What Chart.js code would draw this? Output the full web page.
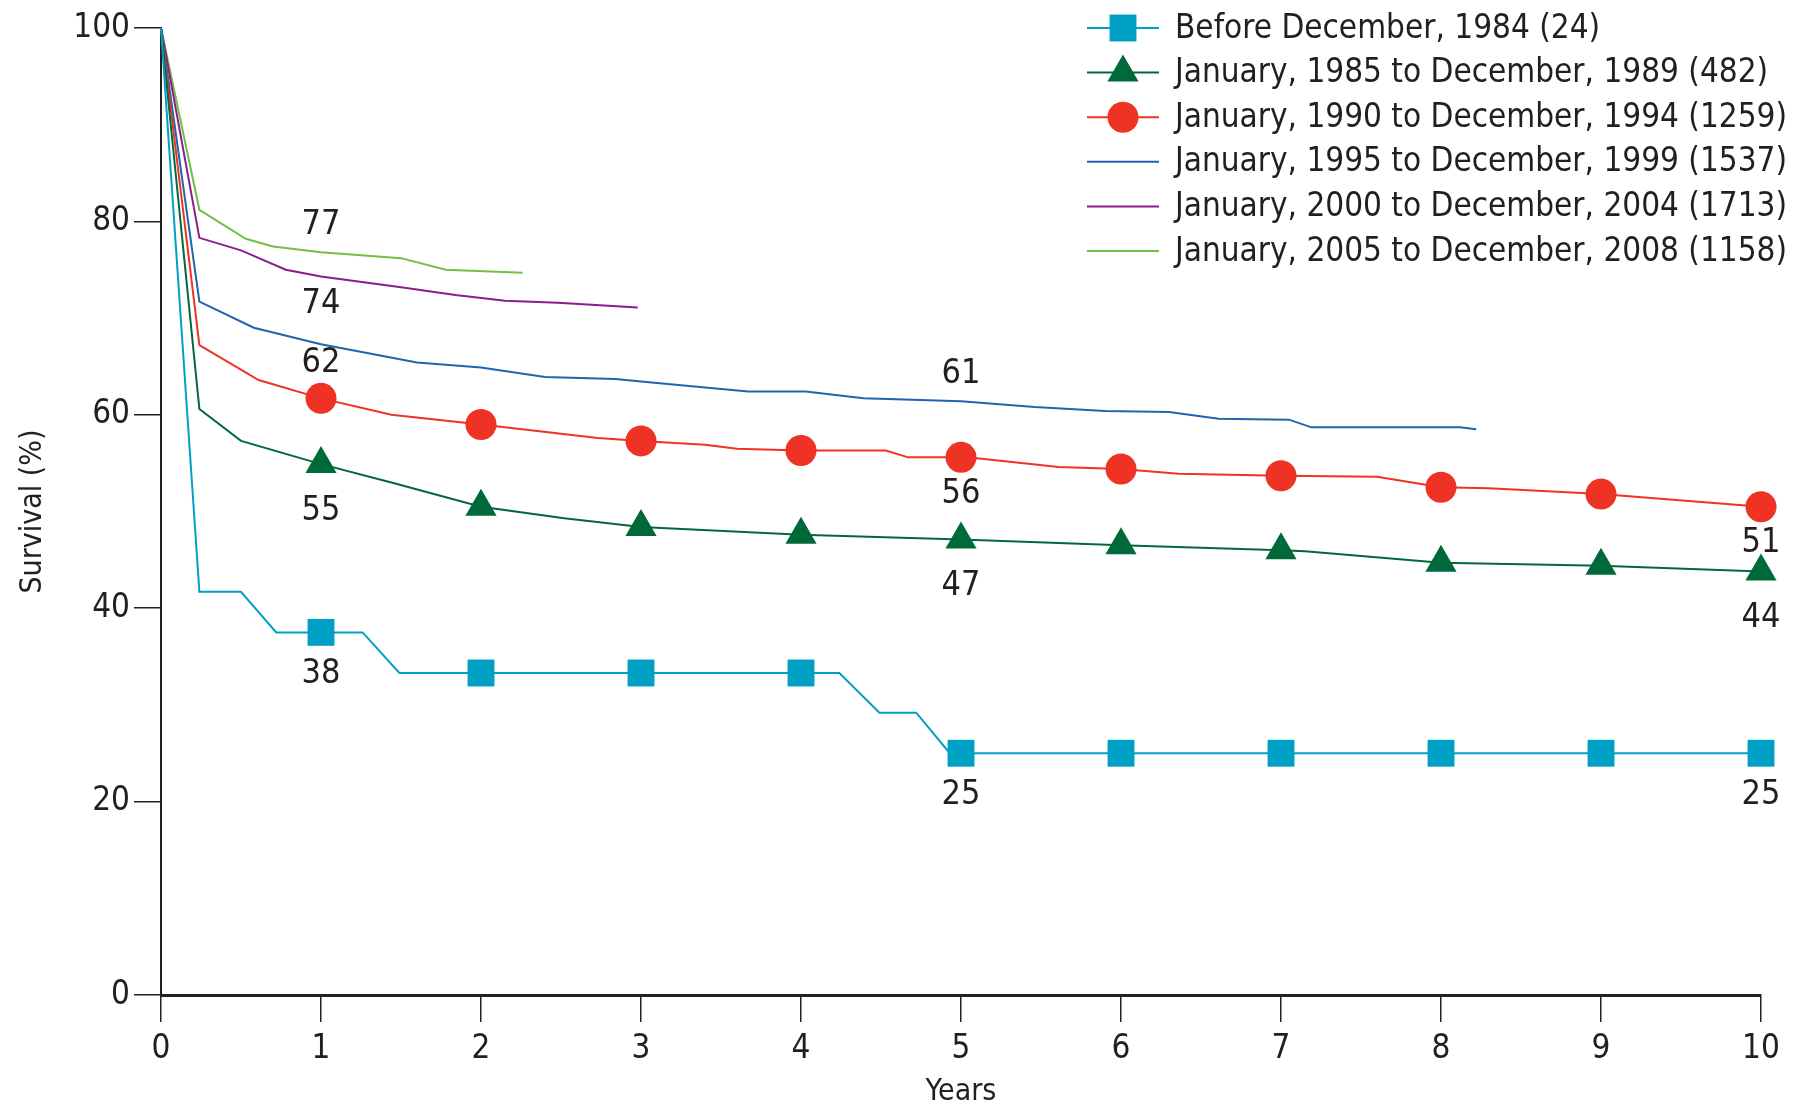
<!DOCTYPE html>
<html>
<head>
<meta charset="utf-8">
<title>Survival by era of treatment</title>
<script src="https://cdn.jsdelivr.net/npm/chart.js@4.4.1/dist/chart.umd.min.js"></script>
<style>
  html, body { margin: 0; padding: 0; background: #fff; }
  #holder { width: 1803px; height: 1105px; }
</style>
</head>
<body>
<div id="holder"><canvas id="survival" width="1803" height="1105"></canvas></div>
<script>
/*global Chart*/
'use strict';

//
// Axis ticks.
//
var yearTicks = [0, 1, 2, 3, 4, 5, 6, 7, 8, 9, 10];
var survivalTicks = [0, 20, 40, 60, 80, 100];
var markerYears = [1, 2, 3, 4, 5, 6, 7, 8, 9, 10];

//
// Series names, in legend order.
//
var seriesNames = [
  'Before December, 1984 (24)',
  'January, 1985 to December, 1989 (482)',
  'January, 1990 to December, 1994 (1259)',
  'January, 1995 to December, 1999 (1537)',
  'January, 2000 to December, 2004 (1713)',
  'January, 2005 to December, 2008 (1158)'
];

//
// Survival curves: follow-up time in years and survival in %.
//
var before1984Years = [0, 0.24, 0.5, 0.72, 1, 1.26, 1.49, 2, 3, 4, 4.24, 4.49, 4.72, 4.93, 5, 6, 7, 8, 9, 10];
var before1984Survival = [100, 41.7, 41.7, 37.5, 37.5, 37.5, 33.3, 33.3, 33.3, 33.3, 33.3, 29.2, 29.2, 25, 25, 25, 25, 25, 25, 25];

var era1985Years = [0, 0.24, 0.5, 1, 1.44, 2, 2.52, 3, 4, 5, 6, 7, 7.15, 8, 9, 10];
var era1985Survival = [100, 60.6, 57.3, 54.9, 53.0, 50.5, 49.3, 48.4, 47.6, 47.1, 46.5, 46.0, 45.9, 44.7, 44.4, 43.8];

var era1990Years = [0, 0.24, 0.61, 1, 1.44, 2, 2.73, 3, 3.4, 3.6, 4, 4.53, 4.67, 5, 5.1, 5.61, 6, 6.36, 7, 7.6, 8, 8.3, 9, 10];
var era1990Survival = [100, 67.2, 63.6, 61.7, 60.0, 59.0, 57.6, 57.3, 56.9, 56.5, 56.3, 56.3, 55.6, 55.6, 55.5, 54.6, 54.4, 53.9, 53.7, 53.6, 52.5, 52.4, 51.8, 50.5];

var era1995Years = [0, 0.24, 0.58, 1, 1.6, 2, 2.4, 2.84, 3.1, 3.67, 4.03, 4.39, 5, 5.46, 5.9, 6.3, 6.61, 7.05, 7.19, 7.98, 8.12, 8.22];
var era1995Survival = [100, 71.7, 69.0, 67.3, 65.4, 64.9, 63.9, 63.7, 63.3, 62.4, 62.4, 61.7, 61.4, 60.8, 60.4, 60.3, 59.6, 59.5, 58.7, 58.7, 58.7, 58.5];

var era2000Years = [0, 0.24, 0.5, 0.78, 1, 1.5, 1.84, 2.15, 2.48, 2.98];
var era2000Survival = [100, 78.3, 77.0, 75.0, 74.3, 73.2, 72.4, 71.8, 71.6, 71.1];

var era2005Years = [0, 0.24, 0.53, 0.7, 1, 1.5, 1.78, 2.26];
var era2005Survival = [100, 81.2, 78.2, 77.4, 76.8, 76.2, 75.0, 74.7];

//
// Survival figures printed next to the curves.
//
var valueLabels = [
  { series: 5, year: 1, text: '77', side: 'above' },
  { series: 4, year: 1, text: '74', side: 'below' },
  { series: 2, year: 1, text: '62', side: 'above' },
  { series: 1, year: 1, text: '55', side: 'below' },
  { series: 0, year: 1, text: '38', side: 'below' },
  { series: 3, year: 5, text: '61', side: 'above' },
  { series: 2, year: 5, text: '56', side: 'below' },
  { series: 1, year: 5, text: '47', side: 'below' },
  { series: 0, year: 5, text: '25', side: 'below' },
  { series: 2, year: 10, text: '51', side: 'below' },
  { series: 1, year: 10, text: '44', side: 'below' },
  { series: 0, year: 10, text: '25', side: 'below' }
];

var INK = '#231f20';
var FONT = '"DejaVu Sans Condensed", "Liberation Sans", Arial, sans-serif';

/**
 * Zip a time array and a survival array into chart points.
 *
 * @param {Array} years
 * @param {Array} survival
 * @returns {Array} points
 */
function points(years, survival) {
  return years.map(function map(x, i) {
    return { x: x, y: survival[i] };
  });
}

/**
 * Build one line dataset.
 *
 * @param {Number} i series index
 * @param {Array} data points
 * @param {String} color
 * @param {String|Boolean} marker point style, false for none
 * @param {Number} size marker radius
 */
function serie(i, data, color, marker, size) {
  return {
    label: seriesNames[i],
    data: data,
    borderColor: color,
    backgroundColor: color,
    borderWidth: 2,
    tension: 0,
    clip: false,
    pointStyle: marker || 'line',
    pointBackgroundColor: color,
    pointBorderWidth: 0,
    markerSize: marker ? size : 0,
    pointRadius: function radius(ctx) {
      if (!marker || !ctx.raw) return 0;
      return markerYears.indexOf(ctx.raw.x) !== -1 ? size : 0;
    },
    pointHoverRadius: 0
  };
}

var datasets = [
  serie(0, points(before1984Years, before1984Survival), '#00a0c4', 'rect', 19),
  serie(1, points(era1985Years, era1985Survival), '#00693a', 'triangle', 18),
  serie(2, points(era1990Years, era1990Survival), '#ee3224', 'circle', 15.5),
  serie(3, points(era1995Years, era1995Survival), '#1f64ae', false, 0),
  serie(4, points(era2000Years, era2000Survival), '#8a1e8c', false, 0),
  serie(5, points(era2005Years, era2005Survival), '#72bf44', false, 0)
];

//
// Legend in the top right corner: line sample with its marker, then the name.
//
var eraLegend = {
  id: 'eraLegend',
  afterDraw: function afterDraw(chart, args, opts) {
    var ctx = chart.ctx;

    ctx.save();
    ctx.font = opts.fontSize + 'px ' + FONT;
    ctx.textBaseline = 'middle';
    ctx.textAlign = 'left';

    chart.data.datasets.forEach(function each(ds, i) {
      var y = opts.top + i * opts.rowHeight
        , x0 = opts.left
        , x1 = opts.left + opts.sampleWidth;

      ctx.strokeStyle = ds.borderColor;
      ctx.lineWidth = ds.borderWidth;
      ctx.beginPath();
      ctx.moveTo(x0, y);
      ctx.lineTo(x1, y);
      ctx.stroke();

      if (ds.markerSize) {
        ctx.fillStyle = ds.pointBackgroundColor;
        Chart.helpers.drawPoint(ctx, {
          pointStyle: ds.pointStyle,
          radius: ds.markerSize,
          rotation: 0,
          borderWidth: 0
        }, (x0 + x1) / 2, y);
      }

      ctx.fillStyle = INK;
      ctx.fillText(ds.label, x1 + opts.gap, y + 1);
    });

    ctx.restore();
  }
};

//
// Survival figures, positioned off the curve point at the given year.
// The distance to the curve depends on the marker drawn on it.
//
var curveLabels = {
  id: 'curveLabels',
  afterDatasetsDraw: function afterDatasetsDraw(chart, args, opts) {
    var ctx = chart.ctx;

    ctx.save();
    ctx.font = opts.fontSize + 'px ' + FONT;
    ctx.fillStyle = INK;
    ctx.textAlign = 'center';
    ctx.textBaseline = 'middle';

    valueLabels.forEach(function each(label) {
      var ds = chart.data.datasets[label.series]
        , meta = chart.getDatasetMeta(label.series)
        , idx = ds.data.findIndex(function find(p) { return p.x === label.year; })
        , el = meta.data[idx]
        , gap = opts[label.side][ds.pointStyle];

      if (!el) return;
      ctx.fillText(label.text, chart.scales.x.getPixelForValue(label.year), el.y + gap);
    });

    ctx.restore();
  }
};

new Chart(document.getElementById('survival'), {
  type: 'line',
  data: { datasets: datasets },
  plugins: [curveLabels, eraLegend],
  options: {
    responsive: false,
    devicePixelRatio: 1,
    animation: false,
    events: [],
    layout: { padding: { left: 0, right: 42, top: 28, bottom: 0 } },
    plugins: {
      legend: { display: false },
      tooltip: { enabled: false },
      eraLegend: { left: 1087, top: 28, rowHeight: 44.6, sampleWidth: 72, gap: 16, fontSize: 33 },
      curveLabels: {
        fontSize: 34,
        above: { line: -27, circle: -35 },
        below: { line: 28, rect: 42, triangle: 47, circle: 37 }
      }
    },
    scales: {
      x: {
        type: 'linear',
        min: 0,
        max: 10,
        afterFit: function fit(scale) { scale.height = 110; },
        afterBuildTicks: function ticks(scale) {
          scale.ticks = yearTicks.map(function map(v) { return { value: v }; });
        },
        border: { display: true, color: INK, width: 3 },
        grid: { drawOnChartArea: false, color: INK, lineWidth: 1.5, tickLength: 27 },
        ticks: { color: INK, padding: 8, maxRotation: 0, font: { family: FONT, size: 33 } },
        title: {
          display: true,
          text: 'Years',
          color: INK,
          padding: { top: 0, bottom: -5 },
          font: { family: FONT, size: 30 }
        }
      },
      y: {
        type: 'linear',
        min: 0,
        max: 100,
        afterFit: function fit(scale) { scale.width = 161; },
        afterBuildTicks: function ticks(scale) {
          scale.ticks = survivalTicks.map(function map(v) { return { value: v }; });
        },
        border: { display: true, color: INK, width: 2 },
        grid: { drawOnChartArea: false, color: INK, lineWidth: 1.5, tickLength: 27 },
        ticks: { color: INK, padding: 4, font: { family: FONT, size: 33 } },
        title: {
          display: true,
          text: 'Survival (%)',
          color: INK,
          padding: { top: 15, bottom: 0 },
          font: { family: FONT, size: 30 }
        }
      }
    }
  }
});
</script>
</body>
</html>
